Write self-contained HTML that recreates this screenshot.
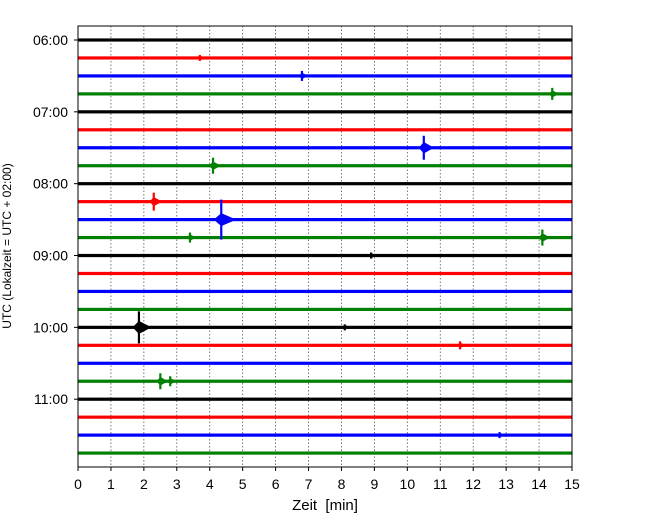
<!DOCTYPE html>
<html><head><meta charset="utf-8"><style>
body{margin:0;background:#fff;font-family:"Liberation Sans",sans-serif}
</style></head><body>
<svg id="chart" width="650" height="520" xmlns="http://www.w3.org/2000/svg" font-family="Liberation Sans, sans-serif">
<g id="grid"></g>
<g id="traces"></g>
<g id="events"></g>
<rect x="78" y="26" width="494" height="441" fill="none" stroke="#000" stroke-width="1"/>
<g id="xaxis"></g>
<g id="yaxis"></g>
<text x="325" y="510" font-size="15" text-anchor="middle" xml:space="preserve">Zeit  [min]</text>
<text transform="translate(11,246) rotate(-90)" font-size="12" text-anchor="middle">UTC (Lokalzeit = UTC + 02:00)</text>
</svg>
<script>
const xTicks=[0,1,2,3,4,5,6,7,8,9,10,11,12,13,14,15];
const yTickLabels=["06:00","07:00","08:00","09:00","10:00","11:00"];
const traceCount=24;
const traceColors=["#000","#f00","#00f","#008000"];
const eventTrace=[1,2,3,6,7,9,10,11,11,12,16,16,17,19,19,22];
const eventMinute=[3.7,6.8,14.4,10.5,4.1,2.3,4.35,14.1,3.4,8.9,1.85,8.1,11.6,2.5,2.8,12.8];
const eventAmp=[3,5,6,12,8,9,20,8,5,3,16,3,4,8,5,3];
const NS="http://www.w3.org/2000/svg";
const X0=78,X1=572,Y0=40,DY=17.96;
const xs=m=>X0+(m/15)*(X1-X0);
const ys=i=>Y0+i*DY;
function mk(t,a,p){const e=document.createElementNS(NS,t);for(const k in a)e.setAttribute(k,a[k]);p.appendChild(e);return e;}
const grid=document.getElementById('grid'),tr=document.getElementById('traces'),ev=document.getElementById('events'),xa=document.getElementById('xaxis'),ya=document.getElementById('yaxis');
xTicks.forEach(m=>{
  if(m>0&&m<15){const l=mk('line',{x1:xs(m),x2:xs(m),y1:26,y2:467,stroke:'#555','stroke-width':0.8,'stroke-dasharray':'1.5,2'},grid);
  
  }
  const t=mk('line',{x1:xs(m),x2:xs(m),y1:467,y2:471,stroke:'#000'},xa);
  
  
  const tx=mk('text',{x:xs(m),y:489,'font-size':14,'text-anchor':'middle'},xa);tx.textContent=m;
  
  
});
yTickLabels.forEach((s,k)=>{
  const y=ys(k*4);
  const t=mk('line',{x1:74,x2:78,y1:y,y2:y,stroke:'#000'},ya);
  
  
  const tx=mk('text',{x:68,y:y+5,'font-size':14,'text-anchor':'end'},ya);tx.textContent=s;
  
  
});
for(let i=0;i<traceCount;i++){
  const r=mk('rect',{x:X0,y:ys(i)-1.6,width:X1-X0,height:3.2,fill:traceColors[i%4]},tr);
  
  
}
eventTrace.forEach((ti,k)=>{
  const x=xs(eventMinute[k]),y=ys(ti),a=eventAmp[k],w=3+a*0.6,h=Math.min(a*0.35,5)+1.5;
  const c=traceColors[ti%4];
  const p=mk('polygon',{points:`${x-w*0.5},${y} ${x},${y-h} ${x+w},${y} ${x},${y+h}`,fill:c},ev);
  
  
  const s=mk('line',{x1:x,x2:x,y1:y-a,y2:y+a,stroke:c,'stroke-width':2.2},ev);
  
  
});
</script>
</body></html>
